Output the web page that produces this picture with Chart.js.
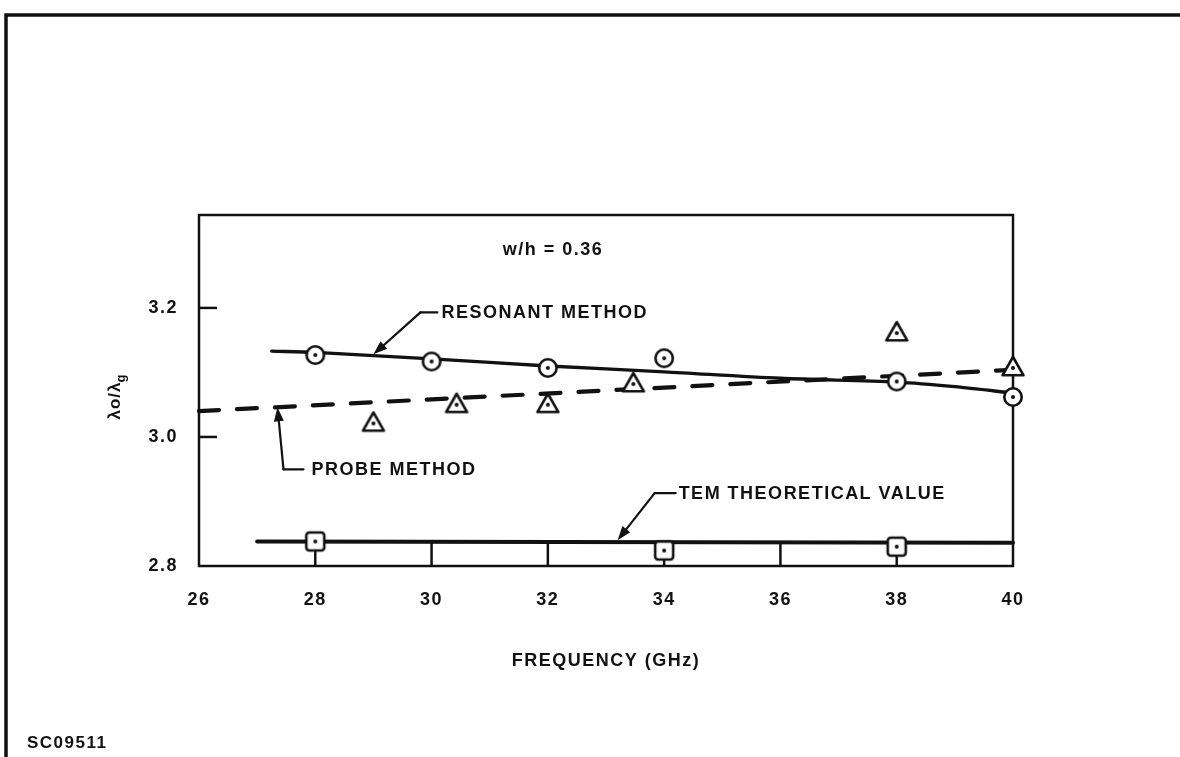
<!DOCTYPE html>
<html>
<head>
<meta charset="utf-8">
<title>λo/λg vs frequency</title>
<script src="https://cdn.jsdelivr.net/npm/chart.js@4.4.1/dist/chart.umd.min.js"></script>
<style>
  html, body { margin: 0; padding: 0; background: #fff; }
  canvas { display: block; }
</style>
</head>
<body>
<canvas id="chart" width="1180" height="757"></canvas>
<script>
// axis ticks
const freqTicks = [26, 28, 30, 32, 34, 36, 38, 40];
const ratioTicks = [2.8, 3.0, 3.2];

// resonant method: measured points and fitted curve
const resonantFreq = [28, 30, 32, 34, 38, 40];
const resonantRatio = [3.127, 3.117, 3.107, 3.122, 3.086, 3.062];
const resonantFitFreq = [27.25, 28, 30, 32, 34, 36, 38, 39, 40];
const resonantFitRatio = [3.133, 3.131, 3.121, 3.110, 3.101, 3.091, 3.085, 3.078, 3.068];

// probe method: measured points and straight fit
const probeFreq = [29, 30.43, 32, 33.47, 38, 40];
const probeRatio = [3.021, 3.050, 3.050, 3.082, 3.161, 3.107];
const probeFitFreq = [26, 40];
const probeFitRatio = [3.040, 3.104];

// TEM theoretical value
const temFreq = [28, 34, 38];
const temRatio = [2.838, 2.824, 2.830];
const temLineFreq = [27, 40];
const temLineRatio = [2.838, 2.836];

const INK = '#111';
const FAMILY = '"Liberation Sans", Arial, sans-serif';
const LABEL_FONT = 'bold 18px ' + FAMILY;

const pts = (xs, ys) => xs.map((x, i) => ({ x, y: ys[i] }));

// open symbols with a dot in the middle
function makeMarker(kind) {
  const c = document.createElement('canvas');
  c.width = 30; c.height = 30;
  const g = c.getContext('2d');
  g.lineWidth = 2.6;
  g.strokeStyle = INK;
  g.fillStyle = '#fff';
  g.lineJoin = 'round';
  g.beginPath();
  if (kind === 'circle') {
    g.arc(15, 15, 8.7, 0, Math.PI * 2);
  } else if (kind === 'square') {
    g.roundRect(6, 6, 18, 18, 3);
  } else {
    g.moveTo(15, 4);
    g.lineTo(25.5, 22.3);
    g.lineTo(4.5, 22.3);
    g.closePath();
  }
  g.fill();
  g.stroke();
  g.fillStyle = INK;
  g.beginPath();
  g.arc(15, 15, 2, 0, Math.PI * 2);
  g.fill();
  return c;
}

// callouts: arrow tip in data units, elbow offset and run in px
const callouts = [
  { text: 'RESONANT METHOD', at: [29, 3.128], elbow: [47, -42], run: 17, gap: 4 },
  { text: 'PROBE METHOD', at: [27.35, 3.046], elbow: [6, 62], run: 20, gap: 8 },
  { text: 'TEM THEORETICAL VALUE', at: [33.2, 2.840], elbow: [37, -47], run: 21, gap: 3 }
];

function arrow(ctx, fx, fy, tx, ty) {
  const a = Math.atan2(ty - fy, tx - fx);
  const c = Math.cos(a), s = Math.sin(a);
  ctx.beginPath();
  ctx.moveTo(fx, fy);
  ctx.lineTo(tx - 10 * c, ty - 10 * s);
  ctx.stroke();
  ctx.beginPath();
  ctx.moveTo(tx, ty);
  ctx.lineTo(tx - 14 * c + 5 * s, ty - 14 * s - 5 * c);
  ctx.lineTo(tx - 14 * c - 5 * s, ty - 14 * s + 5 * c);
  ctx.closePath();
  ctx.fill();
}

// page frame and figure number
const pagePlugin = {
  id: 'page',
  beforeDraw(chart) {
    const ctx = chart.ctx;
    ctx.letterSpacing = '1.5px';
    ctx.save();
    ctx.fillStyle = '#fff';
    ctx.fillRect(0, 0, chart.width, chart.height);
    ctx.strokeStyle = INK;
    ctx.lineWidth = 3.5;
    ctx.beginPath();
    ctx.moveTo(6, chart.height);
    ctx.lineTo(6, 15);
    ctx.lineTo(chart.width, 15);
    ctx.stroke();
    ctx.fillStyle = INK;
    ctx.font = 'bold 17px ' + FAMILY;
    ctx.textBaseline = 'middle';
    ctx.fillText('SC09511', 27, 743);
    ctx.restore();
  }
};

// plot box, inner y ticks and stems up to the TEM line
const boxPlugin = {
  id: 'box',
  beforeDatasetsDraw(chart) {
    const { ctx, chartArea: a, scales: { x, y } } = chart;
    ctx.save();
    ctx.strokeStyle = INK;
    ctx.lineWidth = 2.5;
    ctx.strokeRect(a.left, a.top, a.right - a.left, a.bottom - a.top);
    ratioTicks.slice(1).forEach(v => {
      const py = y.getPixelForValue(v);
      ctx.beginPath();
      ctx.moveTo(a.left, py);
      ctx.lineTo(a.left + 18, py);
      ctx.stroke();
    });
    const [f0, f1] = temLineFreq, [r0, r1] = temLineRatio;
    freqTicks.slice(1, -1).forEach(f => {
      const px = x.getPixelForValue(f);
      const top = y.getPixelForValue(r0 + (r1 - r0) * (f - f0) / (f1 - f0));
      ctx.beginPath();
      ctx.moveTo(px, a.bottom);
      ctx.lineTo(px, top);
      ctx.stroke();
    });
    ctx.restore();
  }
};

// leaders, labels and the y axis title
const notePlugin = {
  id: 'notes',
  afterDatasetsDraw(chart) {
    const { ctx, scales: { x, y } } = chart;
    ctx.save();
    ctx.strokeStyle = INK;
    ctx.fillStyle = INK;
    ctx.lineWidth = 2.2;
    ctx.lineCap = 'round';
    ctx.font = LABEL_FONT;
    ctx.textBaseline = 'middle';
    callouts.forEach(c => {
      const tx = x.getPixelForValue(c.at[0]);
      const ty = y.getPixelForValue(c.at[1]);
      const ex = tx + c.elbow[0], ey = ty + c.elbow[1];
      arrow(ctx, ex, ey, tx, ty);
      ctx.beginPath();
      ctx.moveTo(ex, ey);
      ctx.lineTo(ex + c.run, ey);
      ctx.stroke();
      ctx.fillText(c.text, ex + c.run + c.gap, ey + 1);
    });

    ctx.textAlign = 'center';
    ctx.fillText('w/h = 0.36', x.getPixelForValue(32.09), y.getPixelForValue(3.29));

    // λo/λg with subscript g, reading upward
    ctx.translate(115, 396);
    ctx.rotate(-Math.PI / 2);
    ctx.textAlign = 'left';
    ctx.letterSpacing = '1px';
    ctx.font = 'bold 17px ' + FAMILY;
    const main = 'λo/λ';
    const w1 = ctx.measureText(main).width;
    ctx.font = 'bold 13px ' + FAMILY;
    const w2 = ctx.measureText('g').width;
    const x0 = -(w1 + w2) / 2;
    ctx.font = 'bold 17px ' + FAMILY;
    ctx.fillText(main, x0, 0);
    ctx.font = 'bold 13px ' + FAMILY;
    ctx.fillText('g', x0 + w1 - 1, 6);
    ctx.restore();
  }
};

const ctx = document.getElementById('chart').getContext('2d');
new Chart(ctx, {
  type: 'scatter',
  data: {
    datasets: [
      {
        label: 'Resonant',
        data: pts(resonantFreq, resonantRatio),
        pointStyle: makeMarker('circle'),
        clip: false,
        order: 0
      },
      {
        label: 'Probe',
        data: pts(probeFreq, probeRatio),
        pointStyle: makeMarker('triangle'),
        clip: false,
        order: 0
      },
      {
        label: 'TEM',
        data: pts(temFreq, temRatio),
        pointStyle: makeMarker('square'),
        clip: false,
        order: 0
      },
      {
        label: 'Resonant fit',
        data: pts(resonantFitFreq, resonantFitRatio),
        showLine: true,
        tension: 0.3,
        borderColor: INK,
        borderWidth: 3.3,
        borderCapStyle: 'round',
        pointRadius: 0,
        clip: false,
        order: 1
      },
      {
        label: 'Probe fit',
        data: pts(probeFitFreq, probeFitRatio),
        showLine: true,
        borderColor: INK,
        borderWidth: 4.2,
        borderDash: [20, 18],
        borderCapStyle: 'round',
        pointRadius: 0,
        clip: false,
        order: 1
      },
      {
        label: 'TEM line',
        data: pts(temLineFreq, temLineRatio),
        showLine: true,
        borderColor: INK,
        borderWidth: 4,
        borderCapStyle: 'round',
        pointRadius: 0,
        clip: false,
        order: 1
      }
    ]
  },
  options: {
    responsive: false,
    animation: false,
    devicePixelRatio: 1,
    layout: { padding: { left: 0, top: 215, right: 167, bottom: 81 } },
    plugins: {
      legend: { display: false },
      tooltip: { enabled: false }
    },
    scales: {
      x: {
        type: 'linear',
        min: 26,
        max: 40,
        afterBuildTicks: s => { s.ticks = freqTicks.map(v => ({ value: v })); },
        afterFit: s => { s.height = 110; },
        grid: { display: false, drawTicks: false },
        border: { display: false },
        ticks: { color: INK, font: { family: FAMILY, size: 18, weight: 'bold' }, padding: 23 },
        title: {
          display: true,
          text: 'FREQUENCY (GHz)',
          color: INK,
          font: { family: FAMILY, size: 18, weight: 'bold' },
          padding: { top: 4, bottom: 4 }
        }
      },
      y: {
        type: 'linear',
        min: 2.8,
        max: 3.344,
        afterBuildTicks: s => { s.ticks = ratioTicks.map(v => ({ value: v })); },
        afterFit: s => { s.width = 199; },
        grid: { display: false, drawTicks: false },
        border: { display: false },
        ticks: {
          color: INK,
          font: { family: FAMILY, size: 18, weight: 'bold' },
          padding: 21,
          callback: v => v.toFixed(1)
        }
      }
    }
  },
  plugins: [pagePlugin, boxPlugin, notePlugin]
});
</script>
</body>
</html>
